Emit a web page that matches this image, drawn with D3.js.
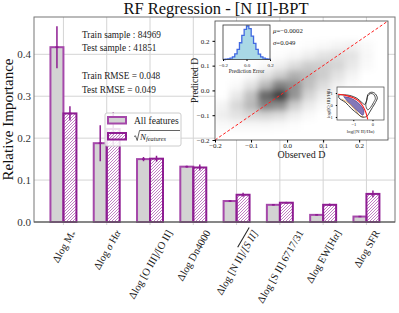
<!DOCTYPE html>
<html>
<head>
<meta charset="utf-8">
<script src="https://cdn.jsdelivr.net/npm/d3@7"></script>
<style>
  body { margin: 0; background: #fff; }
  text { font-family: "Liberation Serif", "Times New Roman", serif; }
</style>
</head>
<body>
<svg id="chart" width="399" height="313"></svg>
<script>
// ---- data ----
const features = ["M", "sigma", "O3O2", "Dn4000", "N2S2", "S2", "EWHa", "SFR"];
const allImp   = [0.417, 0.188, 0.150, 0.132, 0.050, 0.041, 0.017, 0.013];
const allErr   = [0.050, 0.043, 0.005, 0.002, 0.002, 0.001, 0.001, 0.001];
const sqrtImp  = [0.259, 0.222, 0.151, 0.130, 0.065, 0.046, 0.041, 0.067];
const sqrtErr  = [0.017, 0.040, 0.007, 0.007, 0.005, 0.002, 0.003, 0.008];
const yTicks   = [0.0, 0.1, 0.2, 0.3, 0.4];

const infoLines = ["Train sample : 84969", "Test sample : 41851", "", "Train RMSE = 0.048", "Test RMSE = 0.049"];

// predicted vs observed density (one column per xCenter, rows top->bottom = yCenters)
const xCenters = [-0.18, -0.14, -0.10, -0.06, -0.02, 0.02, 0.06, 0.10, 0.14, 0.18, 0.22];
const yCenters = [0.18, 0.14, 0.10, 0.06, 0.02, -0.02, -0.06, -0.10, -0.14];
const densityCols = [
  [0, 0, 0, 0, 0, 0, 0.04, 0.06, 0.02],
  [0, 0, 0, 0, 0.02, 0.08, 0.14, 0.10, 0.03],
  [0, 0, 0, 0.02, 0.10, 0.22, 0.25, 0.14, 0.03],
  [0, 0, 0.02, 0.10, 0.25, 0.55, 0.45, 0.15, 0.03],
  [0, 0.01, 0.06, 0.18, 0.45, 0.70, 0.40, 0.12, 0.02],
  [0, 0.03, 0.12, 0.28, 0.40, 0.38, 0.18, 0.06, 0.01],
  [0.01, 0.06, 0.18, 0.25, 0.22, 0.15, 0.07, 0.02, 0],
  [0.02, 0.10, 0.18, 0.18, 0.12, 0.06, 0.02, 0, 0],
  [0.04, 0.12, 0.15, 0.10, 0.05, 0.02, 0, 0, 0],
  [0.05, 0.10, 0.08, 0.04, 0.01, 0, 0, 0, 0],
  [0.02, 0.03, 0.02, 0, 0, 0, 0, 0, 0]
];
const scatterTicks = [-0.2, -0.1, 0.0, 0.1, 0.2];

// prediction error histogram (bin width 0.02, from -0.2)
const histEdges  = d3.range(21).map(i => +(-0.2 + i * 0.02).toFixed(2));
const histCounts = [0.0, 0.01, 0.02, 0.04, 0.08, 0.17, 0.30, 0.50, 0.72, 0.90,
                    1.0, 0.92, 0.70, 0.48, 0.30, 0.16, 0.08, 0.04, 0.02, 0.01];

// BPT inset curves (log NII/Ha, log OIII/Hb)
const bptRed = [[-1.8, 0.9], [-1.4, 0.8], [-1.0, 0.6], [-0.7, 0.3], [-0.5, -0.1], [-0.35, -0.6], [-0.25, -1.2]];
const bptOuter = [[-1.75, 0.85], [-1.2, 0.8], [-0.8, 0.55], [-0.55, 0.2], [-0.4, 0.05], [-0.3, 0.4], [-0.25, 0.85],
                  [-0.1, 1.05], [0.1, 1.0], [0.25, 0.6], [0.15, 0.2], [0.0, -0.2], [-0.15, -0.6], [-0.3, -0.95],
                  [-0.55, -1.0], [-0.8, -0.7], [-1.1, -0.3], [-1.4, 0.2], [-1.75, 0.6], [-1.75, 0.85]];
const bptInner = [[-0.25, 0.75], [-0.1, 0.95], [0.05, 0.9], [0.15, 0.55], [0.05, 0.2], [-0.1, -0.2],
                  [-0.25, -0.4], [-0.35, 0.0], [-0.3, 0.4], [-0.25, 0.75]];
const bptSF = [[-1.5, 0.7], [-1.1, 0.55], [-0.8, 0.25], [-0.55, -0.15], [-0.45, -0.5], [-0.5, -0.85],
               [-0.7, -0.6], [-1.0, -0.2], [-1.3, 0.3], [-1.5, 0.7]];
const bptOrange = [[-1.6, 0.5], [-1.2, 0.1], [-0.9, -0.4], [-0.65, -0.9], [-0.45, -1.0]];

// ---- drawing ----
const svg = d3.select("#chart");
const purple = "#8e1c92";
const purpleLight = "#a548aa";

const defs = svg.append("defs");
defs.append("pattern").attr("id", "hatch").attr("patternUnits", "userSpaceOnUse")
  .attr("width", 3).attr("height", 3)
  .append("path").attr("d", "M0,3 L3,0 M-0.75,0.75 L0.75,-0.75 M2.25,3.75 L3.75,2.25")
  .attr("stroke", "#a648ab").attr("stroke-width", 0.7);
defs.append("filter").attr("id", "blur").attr("x", "-20%").attr("y", "-20%").attr("width", "140%").attr("height", "140%")
  .append("feGaussianBlur").attr("stdDeviation", 3);

const M = {left: 34, right: 395, top: 17, bottom: 222};
const x = d3.scaleLinear().domain([-0.68, 7.66]).range([M.left, M.right]);
const y = d3.scaleLinear().domain([0, 0.489]).range([M.bottom, M.top]);

// grid
svg.append("g").selectAll("line").data(yTicks.slice(1)).join("line")
  .attr("x1", M.left).attr("x2", M.right).attr("y1", d => y(d)).attr("y2", d => y(d))
  .attr("stroke", "#d4d4d4").attr("stroke-width", 1);
svg.append("g").selectAll("line").data(features).join("line")
  .attr("x1", (d, i) => x(i)).attr("x2", (d, i) => x(i)).attr("y1", M.top).attr("y2", M.bottom + 3)
  .attr("stroke", "#d4d4d4").attr("stroke-width", 1);

// bars
const bw = 0.3;
svg.append("g").selectAll("rect").data(allImp).join("rect")
  .attr("x", (d, i) => x(i - bw)).attr("width", x(bw) - x(0))
  .attr("y", d => y(d)).attr("height", d => y(0) - y(d))
  .attr("fill", "#d3d3d3").attr("stroke", purpleLight).attr("stroke-width", 2);
svg.append("g").selectAll("rect").data(sqrtImp).join("rect")
  .attr("x", (d, i) => x(i)).attr("width", x(bw) - x(0))
  .attr("y", d => y(d)).attr("height", d => y(0) - y(d))
  .attr("fill", "url(#hatch)").attr("stroke", purple).attr("stroke-width", 2);

function errBars(vals, errs, off) {
  const g = svg.append("g").attr("stroke", purple).attr("stroke-width", 1.5);
  vals.forEach((v, i) => {
    const cx = x(i + off);
    g.append("line").attr("x1", cx).attr("x2", cx).attr("y1", y(v - errs[i])).attr("y2", y(v + errs[i]));
    g.append("line").attr("x1", cx - 1.5).attr("x2", cx + 1.5).attr("y1", y(v)).attr("y2", y(v));
  });
}
errBars(allImp, allErr, -bw / 2);
errBars(sqrtImp, sqrtErr, bw / 2);

// frame
svg.append("rect").attr("x", M.left).attr("y", M.top).attr("width", M.right - M.left).attr("height", M.bottom - M.top)
  .attr("fill", "none").attr("stroke", "#777").attr("stroke-width", 1);
svg.append("line").attr("x1", M.left).attr("x2", M.right).attr("y1", M.bottom).attr("y2", M.bottom)
  .attr("stroke", "#555").attr("stroke-width", 1.2);

// y ticks
svg.append("g").selectAll("text").data(yTicks).join("text")
  .attr("x", M.left - 3).attr("y", d => y(d)).attr("dy", "0.35em")
  .attr("text-anchor", "end").attr("font-size", 11).attr("fill", "#333")
  .text(d => d.toFixed(1));

svg.append("text").attr("transform", `translate(13,${(M.top + M.bottom) / 2}) rotate(-90)`)
  .attr("text-anchor", "middle").attr("font-size", 15).attr("fill", "#111").text("Relative Importance");

svg.append("text").attr("x", 216).attr("y", 14).attr("text-anchor", "middle")
  .attr("font-size", 16.5).attr("fill", "#111").text("RF Regression - [N II]-BPT");

// x tick labels (rotated 60deg, bbox centred under tick)
const labelParts = {
  M: [["Δlog M"], ["*", "sub"]],
  sigma: [["Δlog "], ["σ", "it"], [" H"], ["α", "it"]],
  O3O2: [["Δlog [O III]/[O II]"]],
  Dn4000: [["Δlog Dn4000"]],
  N2S2: [["Δlog [N II]/"], ["[S II]", "over"]],
  S2: [["Δlog [S II] 6717/31"]],
  EWHa: [["Δlog EW[H"], ["α", "it"], ["]"]],
  SFR: [["Δlog SFR"]]
};
const xl = svg.append("g");
features.forEach((f, i) => {
  const t = xl.append("text").attr("font-size", 10.5).attr("fill", "#222")
    .attr("text-anchor", "middle").attr("dominant-baseline", "central");
  labelParts[f].forEach(([s, k]) => {
    const ts = t.append("tspan").text(s);
    if (k === "sub") ts.attr("font-size", 7).attr("baseline-shift", "sub");
    if (k === "it") ts.attr("font-style", "italic");
    if (k === "over") ts.attr("font-style", "italic").attr("text-decoration", "overline");
  });
  const L = t.node().getComputedTextLength();
  const h = 10.5;
  const a = Math.PI / 3;
  const cy = 228 + (L * Math.sin(a) + h * Math.cos(a)) / 2;
  t.attr("transform", `translate(${x(i)},${cy}) rotate(-60)`);
});

// info text
svg.append("g").selectAll("text").data(infoLines).join("text")
  .attr("x", 82).attr("y", (d, i) => 37.5 + i * 13.8)
  .attr("font-size", 9.3).attr("fill", "#222").text(d => d);

// legend
const lg = svg.append("g").attr("transform", "translate(105,113)");
lg.append("rect").attr("width", 76).attr("height", 33).attr("rx", 2)
  .attr("fill", "#fff").attr("fill-opacity", 0.85).attr("stroke", "#ccc");
lg.append("rect").attr("x", 3).attr("y", 4).attr("width", 18).attr("height", 6.5)
  .attr("fill", "#d3d3d3").attr("stroke", purpleLight).attr("stroke-width", 2);
lg.append("rect").attr("x", 3).attr("y", 20).attr("width", 18).attr("height", 6.5)
  .attr("fill", "url(#hatch)").attr("stroke", purple).attr("stroke-width", 2);
lg.append("text").attr("x", 29).attr("y", 10.5).attr("font-size", 9.5).attr("fill", "#222").text("All features");
const sq = lg.append("g").attr("transform", "translate(29,0)");
sq.append("path").attr("d", "M0,23.5 L1.5,22.8 L3.2,27.5 L5.5,17.5 L46,17.5")
  .attr("fill", "none").attr("stroke", "#222").attr("stroke-width", 0.7);
sq.append("text").attr("x", 6).attr("y", 26.8).attr("font-family", "DejaVu Sans").attr("font-style", "italic")
  .attr("font-size", 9).attr("fill", "#222").text("N")
  .append("tspan").attr("font-size", 6.3).attr("dy", 1.5).text("features");

// ---- scatter inset ----
const S = {left: 215, right: 388, top: 21, bottom: 140};
const sx = d3.scaleLinear().domain([-0.2, 0.28]).range([S.left, S.right]);
const sy = d3.scaleLinear().domain([-0.2, 0.28]).range([S.bottom, S.top]);
const fmt1 = d => d3.format(".1f")(d).replace("-", "−");
svg.append("rect").attr("x", S.left).attr("y", S.top).attr("width", S.right - S.left).attr("height", S.bottom - S.top)
  .attr("fill", "#fff");
defs.append("clipPath").attr("id", "sclip").append("rect")
  .attr("x", S.left).attr("y", S.top).attr("width", S.right - S.left).attr("height", S.bottom - S.top);
const cells = [];
densityCols.forEach((col, i) => col.forEach((d, j) => { if (d > 0) cells.push({x: xCenters[i], y: yCenters[j], d}); }));
const cw = sx(0.04) - sx(0), ch = sy(0) - sy(0.04);
svg.append("g").attr("clip-path", "url(#sclip)").append("g").attr("filter", "url(#blur)")
  .selectAll("rect").data(cells).join("rect")
  .attr("x", d => sx(d.x) - cw / 2).attr("y", d => sy(d.y) - ch / 2)
  .attr("width", cw).attr("height", ch)
  .attr("fill", "#000").attr("fill-opacity", d => Math.min(1, d.d * 1.1));
svg.append("line").attr("x1", sx(-0.2)).attr("y1", sy(-0.2)).attr("x2", sx(0.28)).attr("y2", sy(0.28))
  .attr("stroke", "#ff2020").attr("stroke-width", 1).attr("stroke-dasharray", "3,2");
svg.append("rect").attr("x", S.left).attr("y", S.top).attr("width", S.right - S.left).attr("height", S.bottom - S.top)
  .attr("fill", "none").attr("stroke", "#444").attr("stroke-width", 0.8);
svg.append("g").attr("transform", `translate(0,${S.bottom})`)
  .call(d3.axisBottom(sx).tickValues(scatterTicks).tickSize(2.5).tickFormat(fmt1))
  .call(g => g.select(".domain").remove())
  .call(g => g.selectAll("text").attr("font-family", "Liberation Serif").attr("font-size", 7).attr("fill", "#222")
    .attr("y", 3).attr("dy", "0.71em"));
svg.append("g").attr("transform", `translate(${S.left},0)`)
  .call(d3.axisLeft(sy).tickValues(scatterTicks).tickSize(2.5).tickFormat(fmt1))
  .call(g => g.select(".domain").remove())
  .call(g => g.selectAll("text").attr("font-family", "Liberation Serif").attr("font-size", 7).attr("fill", "#222"));
svg.append("text").attr("x", (S.left + S.right) / 2).attr("y", 158).attr("text-anchor", "middle")
  .attr("font-size", 10).attr("fill", "#222").text("Observed D");
svg.append("text").attr("transform", `translate(198,${(S.top + S.bottom) / 2}) rotate(-90)`).attr("text-anchor", "middle")
  .attr("font-size", 9.5).attr("fill", "#222").text("Predicted D");

// ---- histogram inset ----
const H = {left: 223, right: 270, top: 25, bottom: 59.5};
const hx = d3.scaleLinear().domain([-0.2, 0.2]).range([H.left, H.right]);
const hy = d3.scaleLinear().domain([0, 1.03]).range([H.bottom, H.top]);
svg.append("rect").attr("x", H.left).attr("y", H.top).attr("width", H.right - H.left).attr("height", H.bottom - H.top)
  .attr("fill", "#fff");
const stepPts = [[histEdges[0], 0]];
histCounts.forEach((c, i) => { stepPts.push([histEdges[i], c]); stepPts.push([histEdges[i + 1], c]); });
stepPts.push([histEdges[histEdges.length - 1], 0]);
svg.append("path").datum(stepPts)
  .attr("d", d3.line().x(d => hx(d[0])).y(d => hy(d[1])))
  .attr("fill", "#a9d8e6").attr("stroke", "#4169e1").attr("stroke-width", 1.3);
svg.append("rect").attr("x", H.left).attr("y", H.top).attr("width", H.right - H.left).attr("height", H.bottom - H.top)
  .attr("fill", "none").attr("stroke", "#333").attr("stroke-width", 0.8);
svg.append("g").attr("transform", `translate(0,${H.bottom})`)
  .call(d3.axisBottom(hx).tickValues([-0.2, 0, 0.2]).tickSize(1.5).tickFormat(fmt1))
  .call(g => g.select(".domain").remove())
  .call(g => g.selectAll("text").attr("font-family", "Liberation Serif").attr("font-size", 5).attr("fill", "#222").attr("dy", "0.5em"));
svg.append("text").attr("x", (H.left + H.right) / 2).attr("y", 72.5).attr("text-anchor", "middle")
  .attr("font-size", 5.5).attr("fill", "#222").text("Prediction Error");
svg.append("text").attr("x", 273).attr("y", 33).attr("font-size", 6.8).attr("fill", "#222")
  .html('<tspan font-style="italic">μ</tspan>=−0.0002');
svg.append("text").attr("x", 273).attr("y", 44.5).attr("font-size", 6.8).attr("fill", "#222")
  .html('<tspan font-style="italic">σ</tspan>=0.049');

// ---- BPT inset ----
const B = {left: 337, right: 384, top: 87, bottom: 120};
const bx = d3.scaleLinear().domain([-1.85, 0.6]).range([B.left, B.right]);
const by = d3.scaleLinear().domain([-1.25, 1.5]).range([B.bottom, B.top]);
svg.append("rect").attr("x", B.left).attr("y", B.top).attr("width", B.right - B.left).attr("height", B.bottom - B.top)
  .attr("fill", "#fff");
defs.append("clipPath").attr("id", "bclip").append("rect")
  .attr("x", B.left).attr("y", B.top).attr("width", B.right - B.left).attr("height", B.bottom - B.top);
const bline = d3.line().x(d => bx(d[0])).y(d => by(d[1])).curve(d3.curveCatmullRom);
const bg = svg.append("g").attr("clip-path", "url(#bclip)");
bg.append("path").attr("d", bline(bptSF)).attr("fill", "#5b4ba0").attr("fill-opacity", 0.75)
  .attr("stroke", "#3a2f7a").attr("stroke-width", 0.6);
bg.append("path").attr("d", bline(bptOrange)).attr("fill", "none").attr("stroke", "#e89a3c").attr("stroke-width", 0.8);
bg.append("path").attr("d", bline(bptOuter)).attr("fill", "none").attr("stroke", "#111").attr("stroke-width", 0.8);
bg.append("path").attr("d", bline(bptInner)).attr("fill", "none").attr("stroke", "#111").attr("stroke-width", 0.7);
bg.append("path").attr("d", bline(bptRed)).attr("fill", "none").attr("stroke", "#ff1a1a").attr("stroke-width", 1.1);
svg.append("rect").attr("x", B.left).attr("y", B.top).attr("width", B.right - B.left).attr("height", B.bottom - B.top)
  .attr("fill", "none").attr("stroke", "#444").attr("stroke-width", 0.7);
svg.append("g").attr("transform", `translate(0,${B.bottom})`)
  .call(d3.axisBottom(bx).tickValues([-1, 0]).tickSize(1.2).tickFormat(d => d < 0 ? "−" + Math.abs(d) : d))
  .call(g => g.select(".domain").remove())
  .call(g => g.selectAll("text").attr("font-family", "Liberation Serif").attr("font-size", 4.5).attr("fill", "#222").attr("dy", "0.4em"));
svg.append("g").attr("transform", `translate(${B.left},0)`)
  .call(d3.axisLeft(by).tickValues([-1, 0, 1]).tickSize(1.2).tickFormat(d => d < 0 ? "−" + Math.abs(d) : d))
  .call(g => g.select(".domain").remove())
  .call(g => g.selectAll("text").attr("font-family", "Liberation Serif").attr("font-size", 4.5).attr("fill", "#222"));
svg.append("text").attr("x", (B.left + B.right) / 2).attr("y", 133).attr("text-anchor", "middle")
  .attr("font-size", 4.8).attr("fill", "#222").text("log([N II]/Hα)");
svg.append("text").attr("transform", `translate(330,${(B.top + B.bottom) / 2}) rotate(-90)`).attr("text-anchor", "middle")
  .attr("font-size", 4.8).attr("fill", "#222").text("log([O III]/Hβ)");
</script>
</body>
</html>
